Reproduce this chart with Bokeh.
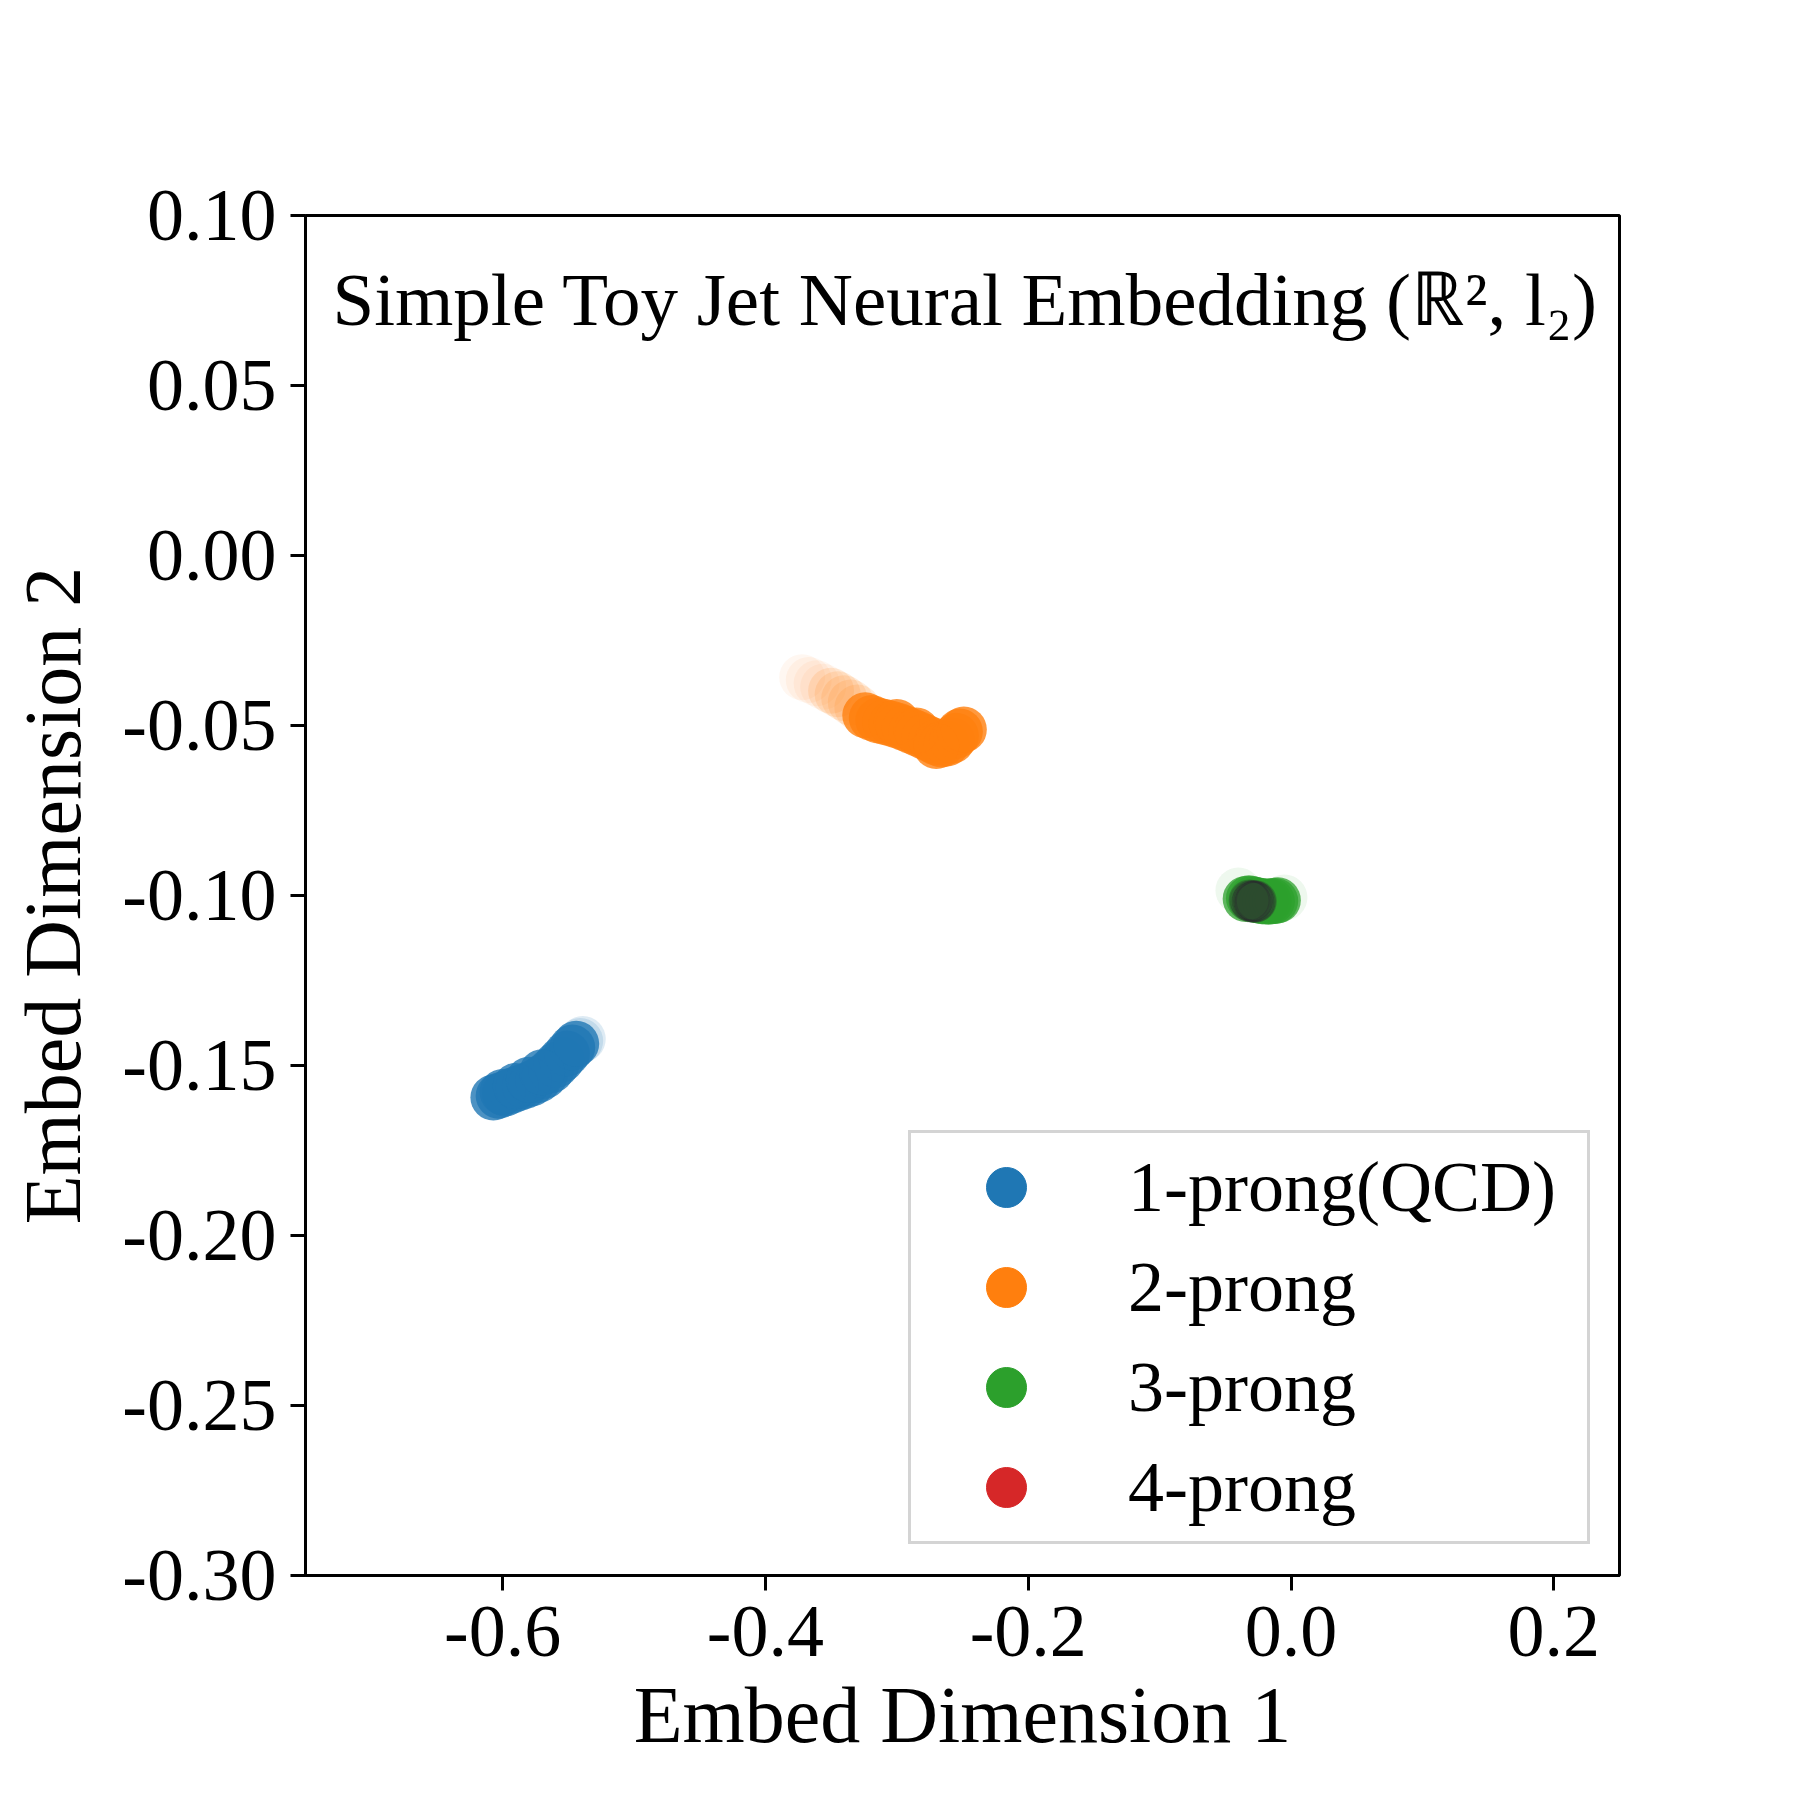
from bokeh.plotting import figure
from bokeh.models import Range1d, FixedTicker, Label, Legend, LegendItem, ColumnDataSource
from bokeh.embed import file_html
from bokeh.resources import INLINE

# ---------------- data ----------------
categories = ["1-prong(QCD)", "2-prong", "3-prong", "4-prong"]
colors = ["#1f77b4", "#ff7f0e", "#2ca02c", "#d62728"]

x_ticks = [-0.6, -0.4, -0.2, 0.0, 0.2]
x_tick_labels = ["-0.6", "-0.4", "-0.2", "0.0", "0.2"]
y_ticks = [-0.30, -0.25, -0.20, -0.15, -0.10, -0.05, 0.00, 0.05, 0.10]
y_tick_labels = ["-0.30", "-0.25", "-0.20", "-0.15", "-0.10", "-0.05", "0.00", "0.05", "0.10"]

# 1-prong (QCD)
blue_x = [-0.607, -0.603, -0.598, -0.593, -0.588, -0.583, -0.578, -0.573, -0.568,
          -0.563, -0.559, -0.555, -0.551, -0.547, -0.544, -0.600, -0.590, -0.580, -0.570]
blue_y = [-0.1594, -0.1589, -0.1582, -0.1574, -0.1567, -0.1560, -0.1553, -0.1543, -0.1530,
          -0.1514, -0.1498, -0.1482, -0.1465, -0.1447, -0.1436, -0.1578, -0.1560, -0.1542, -0.1520]
blue_faint_x = [-0.541, -0.539]
blue_faint_y = [-0.1428, -0.1422]

# 2-prong
orange_x = [-0.324, -0.319, -0.314, -0.309, -0.304, -0.299, -0.294, -0.289, -0.284, -0.279,
            -0.274, -0.270, -0.266, -0.262, -0.258, -0.255, -0.252, -0.249, -0.300, -0.285, -0.270]
orange_y = [-0.0470, -0.0478, -0.0485, -0.0490, -0.0495, -0.0501, -0.0508, -0.0516, -0.0524, -0.0533,
            -0.0542, -0.0550, -0.0556, -0.0553, -0.0545, -0.0530, -0.0518, -0.0512, -0.0490, -0.0515, -0.0560]
orange_mid_x = [-0.350, -0.345, -0.340, -0.335, -0.330]
orange_mid_y = [-0.0398, -0.0408, -0.0420, -0.0432, -0.0447]
orange_faint_x = [-0.372, -0.367, -0.361, -0.356]
orange_faint_y = [-0.0358, -0.0366, -0.0376, -0.0386]

# 3-prong
green_x = [-0.0345, -0.0320, -0.0295, -0.0270, -0.0245, -0.0220, -0.0195, -0.0170, -0.0145, -0.0120, -0.0100]
green_y = [-0.1010, -0.1008, -0.1010, -0.1013, -0.1015, -0.1017, -0.1018, -0.1018, -0.1017, -0.1016, -0.1014]
green_faint_x = [-0.040, -0.005]
green_faint_y = [-0.0985, -0.1006]

# 4-prong (overlapping the 3-prong cluster)
red_x = [-0.0315, -0.0300, -0.0288, -0.0278, -0.0268]
red_y = [-0.1015, -0.1018, -0.1016, -0.1019, -0.1017]

# ---------------- figure ----------------
FONT = "Liberation Serif"
MS = 46

p = figure(width=1784, height=1784, output_backend="svg", toolbar_location=None,
           x_range=Range1d(-0.75, 0.25), y_range=Range1d(-0.30, 0.10),
           min_border_left=305, min_border_top=215, min_border_right=165, min_border_bottom=209)
p.background_fill_color = "white"
p.border_fill_color = "white"
p.grid.visible = False
p.outline_line_color = "black"
p.outline_line_width = 3

for ax, ticks, labels in ((p.xaxis, x_ticks, x_tick_labels), (p.yaxis, y_ticks, y_tick_labels)):
    ax.ticker = FixedTicker(ticks=ticks)
    ax.major_label_overrides = {t: l for t, l in zip(ticks, labels)}
    ax.major_label_text_font = FONT
    ax.major_label_text_font_size = "74px"
    ax.major_label_text_color = "black"
    ax.axis_line_width = 3
    ax.axis_line_color = "black"
    ax.major_tick_line_width = 3
    ax.major_tick_line_color = "black"
    ax.major_tick_out = 15
    ax.major_tick_in = 0
    ax.minor_tick_out = 0
    ax.minor_tick_in = 0
    ax.axis_label_text_font = FONT
    ax.axis_label_text_font_size = "80px"
    ax.axis_label_text_font_style = "normal"
    ax.axis_label_text_color = "black"

p.xaxis.axis_label = "Embed Dimension 1"
p.yaxis.axis_label = "Embed Dimension 2"
p.xaxis.major_label_standoff = 16
p.yaxis.major_label_standoff = 14
p.xaxis.axis_label_standoff = 12
p.yaxis.axis_label_standoff = 22

# blue
p.scatter(blue_faint_x, blue_faint_y, size=MS, color=colors[0], alpha=0.15, line_alpha=0)
p.scatter(blue_x, blue_y, size=MS, color=colors[0], alpha=0.8, line_alpha=0)
# orange
p.scatter(orange_faint_x, orange_faint_y, size=MS, color=colors[1], alpha=0.06, line_alpha=0)
p.scatter(orange_mid_x, orange_mid_y, size=MS, color=colors[1], alpha=0.14, line_alpha=0)
p.scatter(orange_x, orange_y, size=MS, color=colors[1], alpha=0.8, line_alpha=0)
# green
p.scatter(green_faint_x, green_faint_y, size=MS, color=colors[2], alpha=0.08, line_alpha=0)
p.scatter(green_x, green_y, size=MS, color=colors[2], alpha=0.75, line_alpha=0)
# 4-prong: dark overlap on top of the 3-prong cluster
p.scatter(red_x, red_y, size=MS - 6, fill_color="#2b2430", fill_alpha=0.2,
          line_color="#2b2430", line_alpha=0.3, line_width=2)

# legend-only renderers (full opacity markers; NaN positions so nothing shows in the frame)
legend_items = []
for name, c in zip(categories, colors):
    src = ColumnDataSource(dict(x=[float("nan")], y=[float("nan")]))
    r = p.scatter("x", "y", source=src, size=MS, color=c)
    legend_items.append(LegendItem(label=name, renderers=[r]))

legend = Legend(items=legend_items, location=(603, 31), orientation="vertical",
                padding=4, margin=0, spacing=0,
                glyph_width=182, glyph_height=100, label_standoff=31, label_width=455,
                label_text_font=FONT, label_text_font_size="72px", label_text_color="black",
                label_text_baseline="middle",
                border_line_color="#d4d4d4", border_line_width=3, border_line_alpha=1.0,
                background_fill_color="white", background_fill_alpha=0.8)
p.add_layout(legend, "center")

title = Label(x=-0.7295, y=0.0752, text="Simple Toy Jet Neural Embedding (ℝ², l₂)",
              text_font=FONT, text_font_size="75px", text_color="black",
              text_baseline="alphabetic", text_align="left")
p.add_layout(title)

open("out.html", "w").write(file_html(p, INLINE))
